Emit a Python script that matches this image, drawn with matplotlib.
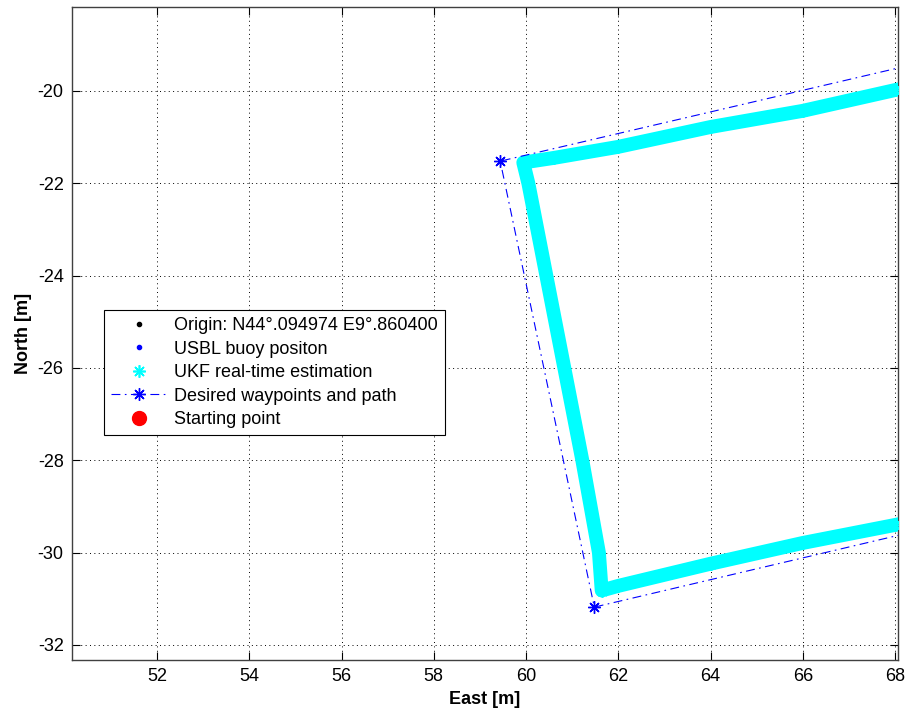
import matplotlib
matplotlib.use("Agg")
from matplotlib import pyplot as plt

# 期望航点与路径 (East, North) [m]
path_east = [70.0, 59.44, 61.48, 70.0]
path_north = [-19.05, -21.52, -31.18, -29.17]

# UKF 实时估计轨迹（从图上读取的关键点）
ukf_east = [68.2, 68.0, 66.0, 64.0, 62.0, 60.6, 59.94, 60.05, 60.44, 60.83,
            61.22, 61.58, 61.64, 62.0, 64.0, 66.0, 68.0, 68.2]
ukf_north = [-19.94, -19.98, -20.43, -20.78, -21.21, -21.45, -21.55, -22.0, -24.0, -26.0,
             -28.0, -30.0, -30.82, -30.72, -30.24, -29.79, -29.40, -29.36]

# 原点 / USBL / 起点（视图内不可见）
origin_east, origin_north = [0.0], [0.0]
usbl_east, usbl_north = [], []
start_east, start_north = [], []

x_ticks = [52, 54, 56, 58, 60, 62, 64, 66, 68]
y_ticks = [-32, -30, -28, -26, -24, -22, -20]

plt.rcParams["font.family"] = ["Liberation Sans", "DejaVu Sans"]
plt.rcParams["font.size"] = 13
plt.rcParams["axes.unicode_minus"] = False

fig = plt.figure(figsize=(9.07, 7.18), dpi=100)
ax = fig.add_axes([0.0794, 0.0808, 0.9107, 0.9095])

asterisk = (8, 2, 0)

ax.plot(origin_east, origin_north, ".", color="black", ms=6,
        label="Origin: N44°.094974 E9°.860400")
ax.plot(usbl_east, usbl_north, ".", color="blue", ms=6, label="USBL buoy positon")
# 轨迹粗带
ax.plot(ukf_east, ukf_north, "-", color="cyan", lw=10, solid_joinstyle="round",
        label="_nolegend_", zorder=3)
ax.plot(ukf_east, ukf_north, ls="none", marker=asterisk, color="cyan", ms=9,
        mew=1.2, label="UKF real-time estimation", zorder=3)
ax.plot(path_east, path_north, color="blue", lw=0.8, dashes=(8, 4, 1.5, 4),
        marker=asterisk, ms=9, mew=1.0, label="Desired waypoints and path", zorder=4)
ax.plot(start_east, start_north, "o", color="red", ms=10, label="Starting point")

ax.set_xlim(50.156, 68.065)
ax.set_ylim(-32.325, -18.18)
ax.set_xticks(x_ticks)
ax.set_yticks(y_ticks)
ax.grid(True, color="black", linestyle=(0, (1, 3.5)), linewidth=0.7)
ax.set_axisbelow(True)
ax.tick_params(direction="in", length=6, width=0.8, top=True, right=True,
               labelsize=13, pad=6)
for s in ax.spines.values():
    s.set_color("#404040")
    s.set_linewidth(1.0)

ax.set_xlabel("East [m]", fontweight="bold", fontsize=13, labelpad=4)
ax.set_ylabel("North [m]", fontweight="bold", fontsize=13, labelpad=4)

leg = ax.legend(loc="upper left", bbox_to_anchor=(0.0387, 0.536), borderaxespad=0,
                fontsize=13, fancybox=False, framealpha=1, edgecolor="black",
                handlelength=3.05, handletextpad=0.45, labelspacing=0.36,
                borderpad=0.4, numpoints=1)
leg.get_frame().set_linewidth(0.8)

fig.savefig("out.png", dpi=100)
